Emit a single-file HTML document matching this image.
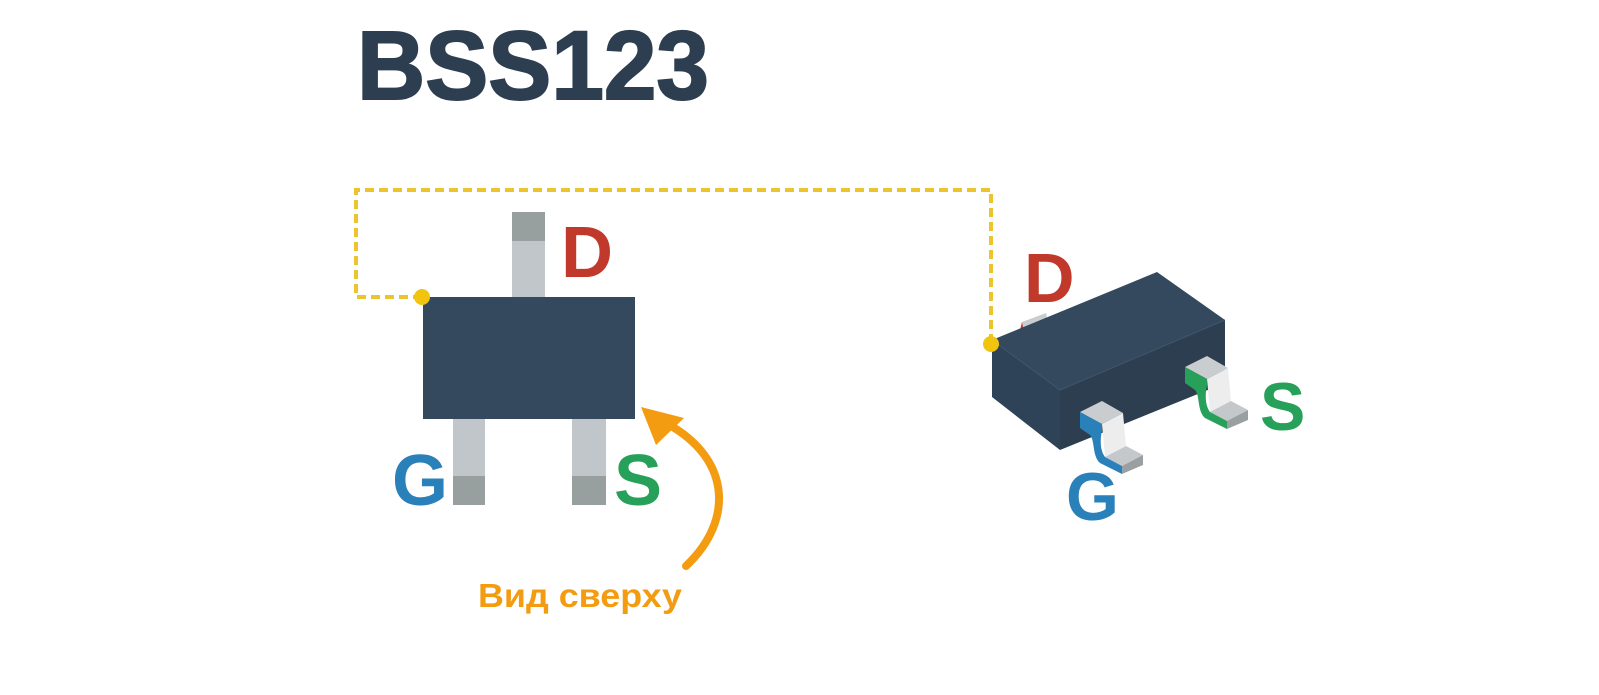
<!DOCTYPE html>
<html><head><meta charset="utf-8"><style>html,body{margin:0;padding:0;background:#fff;}svg{display:block}</style></head>
<body>
<svg width="1599" height="695" viewBox="0 0 1599 695" xmlns="http://www.w3.org/2000/svg" font-family="Liberation Sans, sans-serif" font-weight="bold">
<rect width="1599" height="695" fill="#fff"/>
<text x="357" y="99" font-size="97" fill="#2c3e50" stroke="#2c3e50" stroke-width="2" textLength="352" lengthAdjust="spacingAndGlyphs">BSS123</text>
<!-- dashed connector -->
<path d="M422 297 H356 V190 H991 V344" fill="none" stroke="#ecc430" stroke-width="4" stroke-dasharray="9,5"/>
<!-- left top view -->
<rect x="512" y="212" width="33" height="86" fill="#c0c6c9"/>
<rect x="512" y="212" width="33" height="29" fill="#97a09f"/>
<rect x="453" y="418" width="32" height="87" fill="#c0c6c9"/>
<rect x="453" y="476" width="32" height="29" fill="#97a09f"/>
<rect x="572" y="418" width="34" height="87" fill="#c0c6c9"/>
<rect x="572" y="476" width="34" height="29" fill="#97a09f"/>
<rect x="423" y="297" width="212" height="122" fill="#34495e"/>
<circle cx="422" cy="297" r="8" fill="#f1c40f"/>
<text x="561" y="277" font-size="72" fill="#c0392b">D</text>
<text x="392" y="505" font-size="72" fill="#2a80b9">G</text>
<text x="614" y="505" font-size="72" fill="#27a05a">S</text>
<!-- arrow -->
<path d="M686 566 C735 520 732 455 660 420" fill="none" stroke="#f39c12" stroke-width="8" stroke-linecap="round"/>
<polygon points="641,407 684,418 656,445" fill="#f39c12"/>
<text x="478" y="607" font-size="33" fill="#f39c12" textLength="204" lengthAdjust="spacingAndGlyphs">Вид сверху</text>
<!-- right 3D -->
<polygon points="1022,322 1046,313 1048,322 1024,331" fill="#c9cdd0"/>
<polygon points="1022,322 1024,331 1024,336 1020,330" fill="#c0392b"/>
<polygon points="992,340 1157,272 1225,320 1060,390" fill="#34495e"/>
<polygon points="992,340 1060,390 1060,450 992,397" fill="#2f4358"/>
<polygon points="1060,390 1225,320 1225,383 1060,450" fill="#2c3e50"/>
<path d="M992 340 L1060 390 L1225 320" fill="none" stroke="#3f566d" stroke-width="1"/>
<circle cx="991" cy="344" r="8" fill="#f1c40f"/>
<!-- G lead -->
<g>
<polygon points="1080,412 1102,401 1123,413 1102,424" fill="#c9cdd0"/>
<polygon points="1102,424 1123,413 1126,446 1105,457" fill="#ededed"/>
<polygon points="1105,457 1126,446 1143,455 1122,466" fill="#c4c8ca"/>
<polygon points="1122,466 1143,455 1143,465 1122,474" fill="#9aa0a2"/>
<path d="M1080 412 L1102 424 L1102 430 C1100 440 1100 450 1105 457 L1122 466 L1122 474 L1100 463 C1092 456 1095 440 1090 435 L1080 428 Z" fill="#2a80b9"/>
</g>
<g transform="translate(105,-45)">
<polygon points="1080,412 1102,401 1123,413 1102,424" fill="#c9cdd0"/>
<polygon points="1102,424 1123,413 1126,446 1105,457" fill="#ededed"/>
<polygon points="1105,457 1126,446 1143,455 1122,466" fill="#c4c8ca"/>
<polygon points="1122,466 1143,455 1143,465 1122,474" fill="#9aa0a2"/>
<path d="M1080 412 L1102 424 L1102 430 C1100 440 1100 450 1105 457 L1122 466 L1122 474 L1100 463 C1092 456 1095 440 1090 435 L1080 428 Z" fill="#27a05a"/>
</g>
<text x="1024" y="302" font-size="70" fill="#c0392b">D</text>
<text x="1066" y="520" font-size="68" fill="#2a80b9">G</text>
<text x="1260" y="430" font-size="68" fill="#27a05a">S</text>
</svg>
</body></html>
